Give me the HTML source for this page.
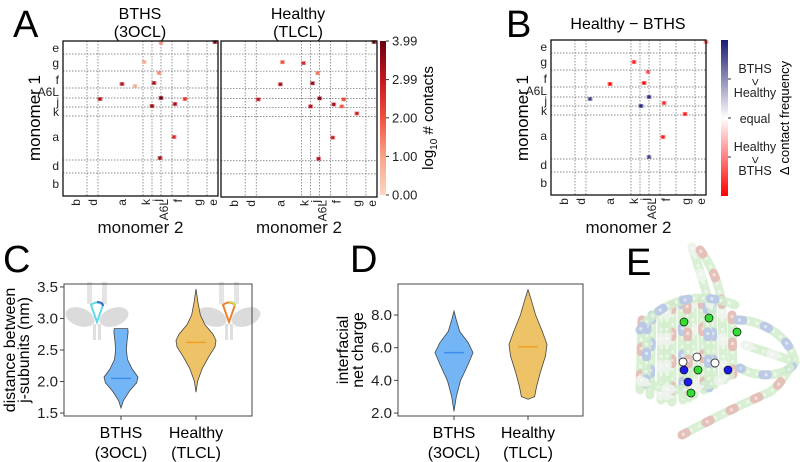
<!DOCTYPE html>
<html><head><meta charset="utf-8">
<style>
html,body{margin:0;padding:0;background:#fff;}
svg{display:block;font-family:"Liberation Sans","DejaVu Sans",sans-serif;}
</style></head>
<body>
<svg id="fig" width="800" height="462" viewBox="0 0 800 462" xmlns="http://www.w3.org/2000/svg">
<defs>
<linearGradient id="redsGrad" x1="0" y1="1" x2="0" y2="0">
<stop offset="0" stop-color="#fcd6c4"/><stop offset="0.25" stop-color="#f8a487"/>
<stop offset="0.5" stop-color="#f0503d"/><stop offset="0.75" stop-color="#c4161c"/>
<stop offset="1" stop-color="#6a0010"/></linearGradient>
<linearGradient id="bwrGrad" x1="0" y1="1" x2="0" y2="0">
<stop offset="0" stop-color="#ff0000"/><stop offset="0.5" stop-color="#ffffff"/>
<stop offset="1" stop-color="#1c1c72"/></linearGradient>
</defs>
<g id="root"></g>
<text x="13" y="37" font-size="38">A</text>
<text x="506" y="37" font-size="38">B</text>
<text x="3" y="272" font-size="38">C</text>
<text x="350" y="272" font-size="38">D</text>
<text x="626" y="275" font-size="38">E</text>
</svg>
<script>
// ---------- data ----------
const regionLabels = ["b","d","a","k","j","A6L","f","g","e"];
const regionCenters = [13,30,59,83,94,101,115,135,150];
const regionBounds = [24,35,80,89,98,109,125,144];
const rowLabels = ["e","g","f","A6L","j","k","a","d","b"];
const rowCenters = [7,22,39,51,61,71,96,125,143];
const rowBounds = [13,30,47,57,66,75,119,132];
const bthsSpots = [[152,1,3.9],[98,2,1.2],[59,43,3.2],[91,42,3.3],[37,58,3.2],[98,57,3.9],[112,63,3.3],[89,65,3.4],[122,58,2.4],[111,96,2.6],[97,117,3.4],[81,21,1.0],[96,32,1.3],[72,45,0.8]];
const healthySpots = [[152,1,3.9],[61,21,2.0],[82,22,2.6],[59,43,3.3],[91,42,3.4],[37,58,3.0],[98,57,3.7],[112,63,3.3],[89,65,3.1],[122,58,2.2],[111,96,2.8],[97,117,3.2],[135,72,2.8],[96,32,1.5],[120,65,2.0]];
const diffSpots = [[59,44,-1],[93,43,-1],[83,22,-0.8],[39,59,0.7],[98,57,0.8],[90,66,0.9],[113,63,-0.7],[134,74,-0.8],[112,97,-0.8],[98,117,0.6],[97,32,-0.4],[155,2,-0.3]];
const cbTicks = [0,1,2,2.99,3.99];
const cbTickLabels = ["0.00","1.00","2.00","2.99","3.99"];
const cCats = ["BTHS","Healthy"];
const cBthsProfile = [[1.58,0],[1.7,0.15],[1.85,0.5],[1.98,0.92],[2.07,1],[2.2,0.65],[2.35,0.38],[2.5,0.32],[2.65,0.36],[2.78,0.42],[2.84,0.4]];
const cHealthyProfile = [[1.83,0],[2.0,0.08],[2.2,0.3],[2.4,0.65],[2.55,0.95],[2.65,1],[2.75,0.85],[2.9,0.45],[3.05,0.22],[3.25,0.1],[3.47,0]];
const cMedians = [2.05,2.62];
const cTicks = [1.5,2.0,2.5,3.0,3.5];
const dBthsProfile = [[2.1,0],[3.0,0.12],[4.0,0.35],[5.0,0.75],[5.7,1],[6.3,0.75],[7.0,0.3],[7.7,0.12],[8.25,0]];
const dHealthyProfile = [[2.85,0],[3.0,0.35],[3.6,0.45],[4.5,0.65],[5.5,0.92],[6.2,1],[7.0,0.75],[8.0,0.4],[9.0,0.15],[9.55,0]];
const dMedians = [5.7,6.05];
const dTicks = [2,4,6,8];

// ---------- helpers ----------
const NS="http://www.w3.org/2000/svg";
const root=document.getElementById('root');
function mk(tag,attrs,parent,text){const e=document.createElementNS(NS,tag);for(const k in attrs)e.setAttribute(k,attrs[k]);if(text!==undefined)e.textContent=text;(parent||root).appendChild(e);return e;}
function redColor(v){const t=Math.max(0,Math.min(1,v/3.99));const stops=[[252,214,196],[248,164,135],[240,80,61],[196,22,28],[106,0,16]];const p=t*4,i=Math.min(3,Math.floor(p)),f=p-i;const a=stops[i],b=stops[i+1];return `rgb(${Math.round(a[0]+(b[0]-a[0])*f)},${Math.round(a[1]+(b[1]-a[1])*f)},${Math.round(a[2]+(b[2]-a[2])*f)})`;}
function diffColor(v){return v>0?`rgba(28,28,114,${0.35+0.6*v})`:`rgba(255,0,0,${0.35+0.6*(-v)})`;}

function heatmap(x0,y0,size,spots,colorFn,name,showY){
  const g=mk('g',{});
  
  
  const s=size/155;
  mk('rect',{x:x0,y:y0,width:size,height:size,fill:'#fff'},g);
  regionBounds.forEach(b=>{const l=mk('line',{x1:x0+b*s,x2:x0+b*s,y1:y0,y2:y0+size,stroke:'#666','stroke-width':0.7,'stroke-dasharray':'1.5,1.5'},g);
    });
  rowBounds.forEach(b=>{const l=mk('line',{y1:y0+b*s,y2:y0+b*s,x1:x0,x2:x0+size,stroke:'#666','stroke-width':0.7,'stroke-dasharray':'1.5,1.5'},g);
    });
  spots.forEach(sp=>{const cx=x0+sp[0]*s,cy=y0+sp[1]*s;const c=colorFn(sp[2]);
    const o=mk('rect',{x:cx-2.5,y:cy-2,width:5,height:4,fill:c,opacity:0.45},g);
    const r=mk('rect',{x:cx-1.5,y:cy-1.5,width:3,height:3,fill:c},g);
    
    });
  mk('rect',{x:x0,y:y0,width:size,height:size,fill:'none',stroke:'#111','stroke-width':1.3},g);
  regionLabels.forEach((lb,i)=>{const x=x0+regionCenters[i]*s;
    const t=mk('text',{x:0,y:0,transform:`translate(${x+4},${y0+size+3}) rotate(-90)`,'font-size':12,'text-anchor':'end',fill:'#222'},g,lb);
    });
  if(showY){rowLabels.forEach((lb,i)=>{const t=mk('text',{x:x0-4,y:y0+rowCenters[i]*s+4,'font-size':12,'text-anchor':'end',fill:'#222'},g,lb);
    });}
  const xl=mk('text',{x:x0+size/2,y:233,'font-size':17,'text-anchor':'middle',fill:'#111'},g,'monomer 2');
  
}

// Panel A
heatmap(63,41,155,bthsSpots,redColor,'heatmap-bths',true);
heatmap(221,41,156,healthySpots,redColor,'heatmap-healthy',false);
[[140,'BTHS','(3OCL)','title-bths'],[298,'Healthy','(TLCL)','title-healthy']].forEach(t=>{
  const a=mk('text',{x:t[0],y:19,'font-size':16,'text-anchor':'middle'},root,t[1]);
  const b=mk('text',{x:t[0],y:37,'font-size':16,'text-anchor':'middle'},root,t[2]);});
let yl=mk('text',{transform:'translate(40,118) rotate(-90)','font-size':17,'text-anchor':'middle'},root,'monomer 1');

let cb=mk('rect',{x:380,y:41,width:6,height:154,fill:'url(#redsGrad)'});

cbTicks.forEach((v,i)=>{const y=195-v/3.99*154;mk('line',{x1:386,x2:389,y1:y,y2:y,stroke:'#333'});
  const t=mk('text',{x:392,y:y+4.5,'font-size':13,fill:'#222'},root,cbTickLabels[i]);});
let cbt=mk('text',{transform:'translate(433,118) rotate(-90)','font-size':15,'text-anchor':'middle'});
cbt.innerHTML='log<tspan font-size="10" dy="4">10</tspan><tspan dy="-4"> # contacts</tspan>';


// Panel B
heatmap(551,40,155,diffSpots,diffColor,'heatmap-difference',true);
let bt=mk('text',{x:628,y:29,'font-size':16,'text-anchor':'middle'},root,'Healthy \u2212 BTHS');

yl=mk('text',{transform:'translate(528,118) rotate(-90)','font-size':17,'text-anchor':'middle'},root,'monomer 1');

cb=mk('rect',{x:721,y:40,width:7,height:156,fill:'url(#bwrGrad)'});

[79,118,157].forEach(y=>mk('line',{x1:728,x2:731,y1:y,y2:y,stroke:'#333'}));
[['BTHS',73],['>',86],['Healthy',97],['equal',123],['Healthy',151],['>',164],['BTHS',175]].forEach(a=>{
  const t=mk('text',{x:755,y:a[1],'font-size':12.5,'text-anchor':'middle',fill:'#222',transform:a[0]=='>'?`rotate(90 755 ${a[1]-4})`:''},root,a[0]);
  });
cbt=mk('text',{transform:'translate(789,118) rotate(-90)','font-size':13,'text-anchor':'middle'},root,'\u0394 contact frequency');


// violins
function violinPanel(box,vmin,vmax,ticks,tickFmt,centers,profiles,medians,maxHalf,name){
  const g=mk('g',{});
  const yS=v=>box.y1-(v-vmin)/(vmax-vmin)*(box.y1-box.y0);
  const cols=[['#74b5f5','#3d8ee8'],['#eec368','#f5a020']];
  profiles.forEach((p,i)=>{const cx=centers[i];let d='';
    p.forEach((pt,j)=>{d+=(j?'L':'M')+(cx+pt[1]*maxHalf[i]).toFixed(1)+','+yS(pt[0]).toFixed(1);});
    for(let j=p.length-1;j>=0;j--){d+='L'+(cx-p[j][1]*maxHalf[i]).toFixed(1)+','+yS(p[j][0]).toFixed(1);}
    const v=mk('path',{d:d+'Z',fill:cols[i][0],stroke:'#444','stroke-width':0.8},g);
    
    const m=mk('line',{x1:cx-10,x2:cx+10,y1:yS(medians[i]),y2:yS(medians[i]),stroke:cols[i][1],'stroke-width':1.5},g);
    });
  mk('rect',{x:box.x0,y:box.y0,width:box.x1-box.x0,height:box.y1-box.y0,fill:'none',stroke:'#444','stroke-width':1},g);
  ticks.forEach(t=>{const y=yS(t);mk('line',{x1:box.x0-4,x2:box.x0,y1:y,y2:y,stroke:'#444'},g);
    const tl=mk('text',{x:box.x0-6,y:y+5,'font-size':15,'text-anchor':'end',fill:'#222'},g,tickFmt(t));
    });
  [['BTHS','(3OCL)'],['Healthy','(TLCL)']].forEach((l,i)=>{mk('line',{x1:centers[i],x2:centers[i],y1:box.y1,y2:box.y1+4,stroke:'#444'},g);
    const a=mk('text',{x:centers[i],y:438,'font-size':16,'text-anchor':'middle'},g,l[0]);
    const b=mk('text',{x:centers[i],y:458,'font-size':16,'text-anchor':'middle'},g,l[1]);});
  return g;
}
function inset(cx,cy,c1,c2,name){const g=mk('g',{opacity:0.9});
  mk('ellipse',{cx:cx-17,cy:cy+5,rx:15,ry:9,fill:'#d8d8d8',transform:`rotate(20 ${cx-17} ${cy+5})`},g);
  mk('ellipse',{cx:cx+17,cy:cy+5,rx:15,ry:9,fill:'#d8d8d8',transform:`rotate(-20 ${cx+17} ${cy+5})`},g);
  mk('rect',{x:cx-10,y:cy-30,width:5,height:22,fill:'#e2e2e2'},g);mk('rect',{x:cx+5,y:cy-30,width:5,height:22,fill:'#e2e2e2'},g);
  mk('rect',{x:cx-4,y:cy+12,width:3,height:16,fill:'#dcdcdc'},g);mk('rect',{x:cx+1,y:cy+12,width:3,height:16,fill:'#dcdcdc'},g);
  mk('path',{d:`M${cx-6},${cy-7} Q${cx},${cy-12} ${cx+6},${cy-7} L${cx},${cy+10} Z`,fill:'none',stroke:c1,'stroke-width':2},g);
  mk('path',{d:`M${cx},${cy-10} Q${cx+6},${cy-10} ${cx+6},${cy-6}`,fill:'none',stroke:c2,'stroke-width':2},g);}
inset(97,312,'#4fd6e6','#2a5fc0','inset-structure-bths');
inset(229,312,'#e8751a','#c8d83a','inset-structure-healthy');
violinPanel({x0:64,x1:252,y0:284,y1:416},1.453,3.547,cTicks,t=>t.toFixed(1),[121,196],[cBthsProfile,cHealthyProfile],cMedians,[17,20],'violin-plot-distance');
violinPanel({x0:398,x1:583,y0:284,y1:416},1.82,9.9,dTicks,t=>t.toFixed(1),[454,528],[dBthsProfile,dHealthyProfile],dMedians,[19,19],'violin-plot-charge');
yl=mk('text',{transform:'translate(15,350) rotate(-90)','font-size':16,'text-anchor':'middle'},root,'distance between');

yl=mk('text',{transform:'translate(29,350) rotate(-90)','font-size':16,'text-anchor':'middle'},root,'j-subunits (nm)');

yl=mk('text',{transform:'translate(348,350) rotate(-90)','font-size':16,'text-anchor':'middle'},root,'interfacial');

yl=mk('text',{transform:'translate(363,350) rotate(-90)','font-size':16,'text-anchor':'middle'},root,'net charge');


// Panel E: protein structure sketch
const eg=mk('g',{});
const helices=[
 'M642,320 L640,390','M652,315 L650,395','M662,310 L661,400','M672,305 L672,402','M682,300 L683,400','M692,300 L694,395',
 'M702,300 L704,390','M712,305 L714,385','M722,310 L724,380','M732,315 L733,375','M647,325 L646,385','M667,310 L667,398','M687,305 L689,398','M707,305 L709,388',
 'M692,247 C700,270 705,290 712,310','M700,250 C715,270 720,290 722,305',
 'M738,320 C760,320 790,335 795,362 C790,375 760,380 740,368','M745,345 C760,350 775,355 790,360',
 'M682,435 C710,420 740,405 770,392 C780,385 785,375 790,368',
 'M640,330 C660,300 700,290 735,305','M640,380 C670,395 700,392 730,375'];
helices.forEach((d,i)=>{
  const a=mk('path',{d:d,fill:'none',stroke:'#d2edcc','stroke-width':9,'stroke-linecap':'round',opacity:0.85},eg);
  
  mk('path',{d:d,fill:'none',stroke:['#e8b0b0','#b3bdec','#f4f4f4'][i%3],'stroke-width':9,'stroke-dasharray':'5,22','stroke-linecap':'round',opacity:0.75},eg);
  mk('path',{d:d,fill:'none',stroke:'#ffffff','stroke-width':3,'stroke-dasharray':'3,6',opacity:0.5},eg);});
[[684,370,'#1a1aee'],[688,382,'#1a1aee'],[691,393,'#33dd33'],[683,362,'#ffffff'],[684,322,'#33dd33'],[709,318,'#33dd33'],[737,332,'#33dd33'],[715,363,'#ffffff'],[698,370,'#33dd33'],[728,370,'#1a1aee'],[697,357,'#ffffff']].forEach(p=>{
  const c=mk('circle',{cx:p[0],cy:p[1],r:4,fill:p[2],stroke:'#111','stroke-width':0.7},eg);
  });
</script>
</body></html>
